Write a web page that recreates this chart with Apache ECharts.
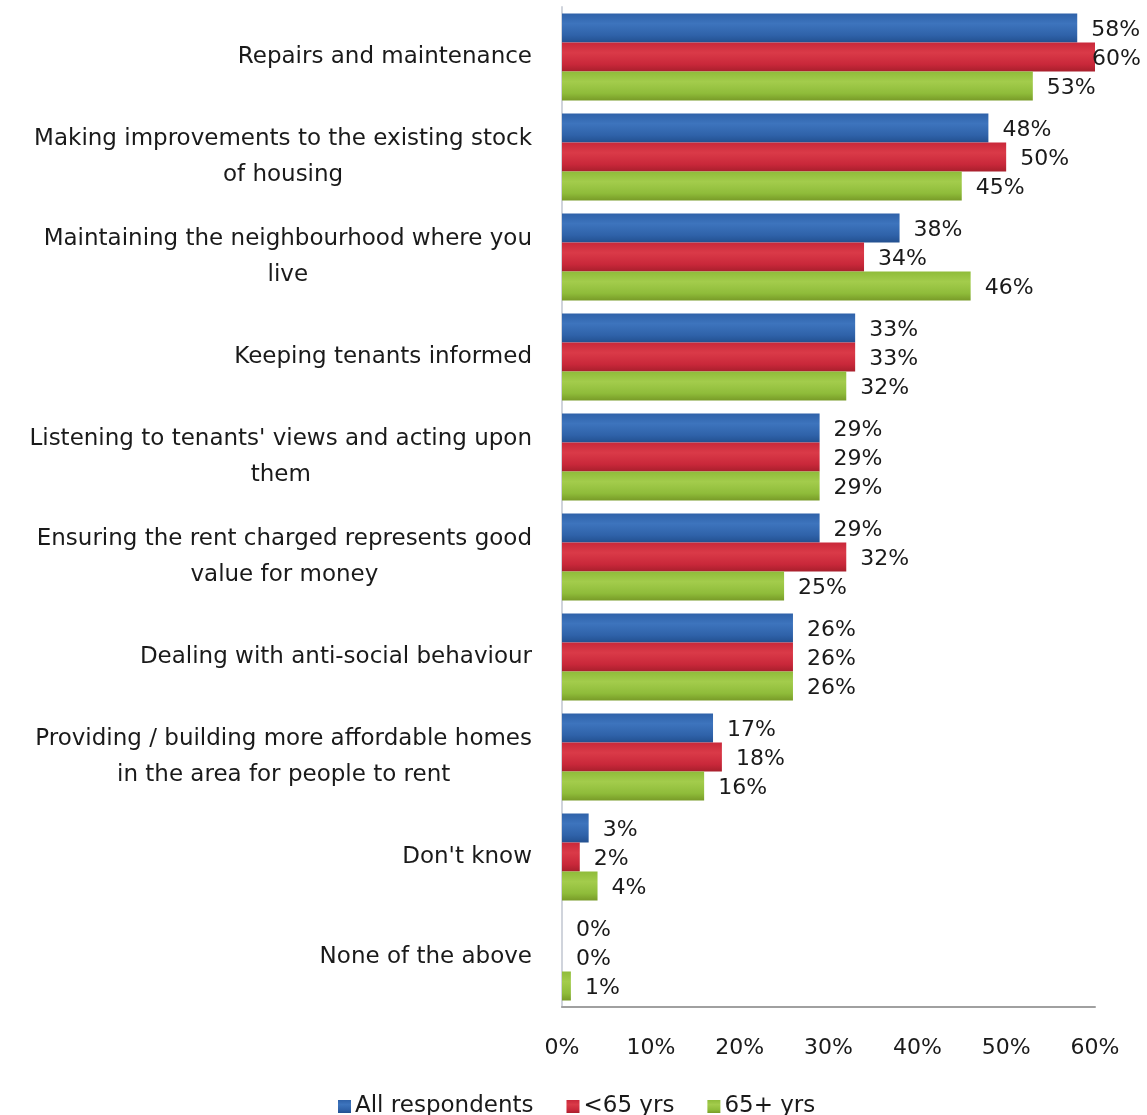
<!DOCTYPE html>
<html>
<head>
<meta charset="utf-8">
<script src="https://cdn.jsdelivr.net/npm/echarts@6/dist/echarts.min.js"></script>
<style>
  html, body { margin: 0; padding: 0; background: #ffffff; }
  #chart { width: 1147px; height: 1115px; }
</style>
</head>
<body>
<div id="chart"></div>
<script>
// Tenant priorities survey: share of respondents choosing each area
const categories = [
  'Repairs and maintenance',
  'Making improvements to the existing stock\nof housing',
  'Maintaining the neighbourhood where you\nlive',
  'Keeping tenants informed',
  "Listening to tenants' views and acting upon\nthem",
  'Ensuring the rent charged represents good\nvalue for money',
  'Dealing with anti-social behaviour',
  'Providing / building more affordable homes\nin the area for people to rent',
  "Don't know",
  'None of the above'
];
const allRespondents = [58, 48, 38, 33, 29, 29, 26, 17, 3, 0];
const under65 = [60, 50, 34, 33, 29, 32, 26, 18, 2, 0];
const over65 = [53, 45, 46, 32, 29, 25, 26, 16, 4, 1];
const seriesNames = ['All respondents', '<65 yrs', '65+ yrs'];
const tickValues = [0, 10, 20, 30, 40, 50, 60];

const FONT = '"DejaVu Sans", "Open Sans", sans-serif';
const TEXT_COLOR = '#1a1a1a';
const AXIS_MAX = 60;

function shade(dark, mid, light) {
  return new echarts.graphic.LinearGradient(0, 0, 0, 1, [
    { offset: 0, color: mid },
    { offset: 0.35, color: light },
    { offset: 0.75, color: mid },
    { offset: 1, color: dark }
  ]);
}

const palette = [
  { legend: '#2f5f9e', fill: shade('#23508f', '#2f62a9', '#3d74bd') },
  { legend: '#c0283a', fill: shade('#a81f2c', '#c9283a', '#da3a48') },
  { legend: '#8db33c', fill: shade('#789b28', '#8fbc3a', '#a3cc4c') }
];

function makeSeries(name, data, idx) {
  return {
    name: name,
    type: 'bar',
    // a bar reaching the axis end keeps its label tucked against the bar tip
    data: data.map(v => v >= AXIS_MAX ? { value: v, label: { distance: -3 } } : v),
    barWidth: 29,
    barGap: '0%',
    itemStyle: { color: palette[idx].fill },
    label: {
      show: true,
      position: 'right',
      distance: 14,
      offset: [0, 2],
      formatter: '{c}%',
      fontFamily: FONT,
      fontSize: 22,
      color: TEXT_COLOR
    }
  };
}

// Each wrapped category line is centred within its label block,
// while the block itself sits right-aligned against the axis.
function categoryLabel(text) {
  return text.split('\n').map(line => '{c|' + line + '}').join('\n');
}

const chart = echarts.init(document.getElementById('chart'));
chart.setOption({
  animation: false,
  backgroundColor: '#ffffff',
  color: palette.map(p => p.legend),
  grid: { left: 562, right: 52, top: 7, bottom: 108, containLabel: false },
  legend: {
    top: 1090,
    left: 333,
    itemWidth: 13,
    itemHeight: 13,
    itemGap: 33,
    icon: 'rect',
    textStyle: { fontFamily: FONT, fontSize: 23, color: TEXT_COLOR, padding: [0, 0, 0, -1] },
    data: seriesNames
  },
  xAxis: {
    type: 'value',
    min: 0,
    max: AXIS_MAX,
    interval: 10,
    axisLine: { show: true, lineStyle: { color: '#a0a0a0', width: 2 } },
    axisTick: { show: false },
    splitLine: { show: false },
    axisLabel: {
      margin: 30,
      fontFamily: FONT,
      fontSize: 22,
      color: TEXT_COLOR,
      formatter: v => tickValues.includes(v) ? v + '%' : ''
    }
  },
  yAxis: {
    type: 'category',
    inverse: true,
    data: categories,
    axisLine: { show: true, lineStyle: { color: '#d0d4dc', width: 2 } },
    axisTick: { show: false },
    axisLabel: {
      margin: 30,
      align: 'right',
      formatter: categoryLabel,
      rich: {
        c: {
          fontFamily: FONT,
          fontSize: 23,
          lineHeight: 36,
          color: TEXT_COLOR,
          align: 'center'
        }
      }
    }
  },
  series: [
    makeSeries(seriesNames[0], allRespondents, 0),
    makeSeries(seriesNames[1], under65, 1),
    makeSeries(seriesNames[2], over65, 2)
  ]
});
</script>
</body>
</html>
